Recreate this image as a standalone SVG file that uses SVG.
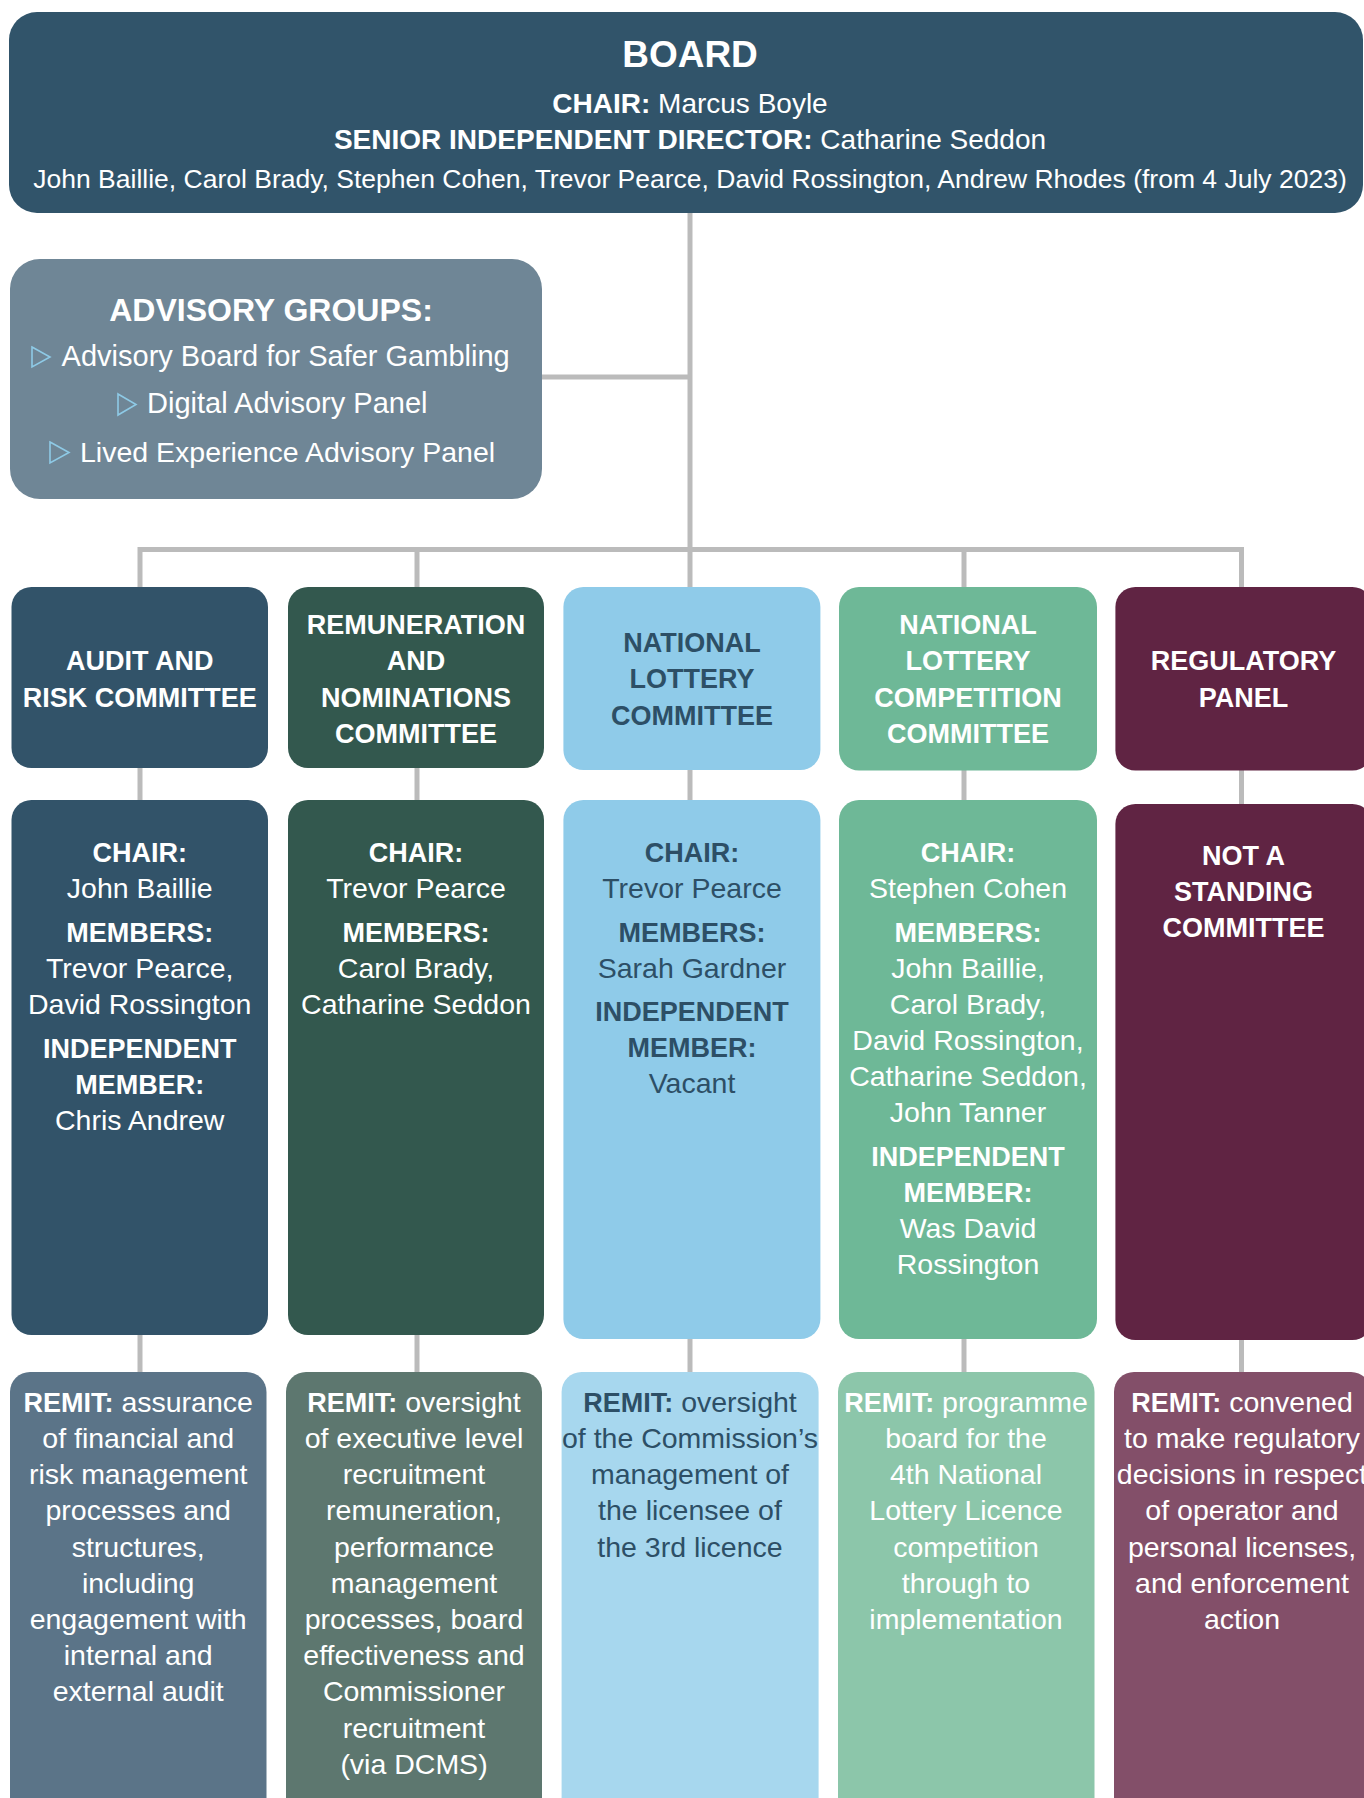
<svg xmlns="http://www.w3.org/2000/svg" width="1364" height="1798" viewBox="0 0 1364 1798">
<style>
text { font-family: "Liberation Sans", Arial, sans-serif; text-anchor: middle; font-size: 28.5px; }
.w { fill: #ffffff; }
.d { fill: #2d4f66; }
.b { font-weight: bold; }
.s27 { font-size: 27px; }
.st { text-anchor: start; }
.conn { stroke: #bbbbbb; stroke-width: 5; fill: none; }
.bul { stroke: #8ecae6; stroke-width: 1.6; fill: none; stroke-linejoin: miter; }
.c1 { fill: #325369; } .c1r { fill: #5b7488; }
.c2 { fill: #33584e; } .c2r { fill: #5d776f; }
.c3 { fill: #8fcbe9; } .c3r { fill: #a7d7ee; }
.c4 { fill: #6eb897; } .c4r { fill: #8cc6aa; }
.c5 { fill: #602443; } .c5r { fill: #834f69; }
</style>

<g id="connectors" class="conn">
  <path d="M690 205 V550"/>
  <path d="M535 377 H690"/>
  <path d="M140 549.5 H1241.5"/>
  <path d="M140 547 V595 M417 547 V595 M690 547 V595 M964 547 V595 M1241.5 547 V595"/>
  <path d="M140 760 V808 M417 760 V808 M690 760 V808 M964 760 V808 M1241.5 760 V812"/>
  <path d="M140 1325 V1380 M417 1325 V1380 M690 1325 V1380 M964 1325 V1380 M1241.5 1325 V1380"/>
</g>

<g id="board">
  <rect x="9" y="12" width="1354" height="201" rx="28" fill="#31546a"/>
  <text class="w b" x="690" y="66.7" style="font-size:37px">BOARD</text>
  <text class="w" x="690" y="112.7" style="font-size:28px"><tspan class="b">CHAIR:</tspan> Marcus Boyle</text>
  <text class="w" x="690" y="149.3" style="font-size:28px"><tspan class="b">SENIOR INDEPENDENT DIRECTOR:</tspan> Catharine Seddon</text>
  <text class="w" x="690" y="188.3" style="font-size:26.5px">John Baillie, Carol Brady, Stephen Cohen, Trevor Pearce, David Rossington, Andrew Rhodes (from 4 July 2023)</text>
</g>

<g id="advisory-groups">
  <rect x="10" y="259" width="532" height="240" rx="30" fill="#6f8696"/>
  <text class="w b" x="271" y="320.7" style="font-size:32px">ADVISORY GROUPS:</text>
  <polygon class="bul" points="32,347 50,357 32,367"/>
  <text class="w st" x="61.6" y="366" style="font-size:29px">Advisory Board for Safer Gambling</text>
  <polygon class="bul" points="118,394 136,404.5 118,415"/>
  <text class="w st" x="147" y="413" style="font-size:29px">Digital Advisory Panel</text>
  <polygon class="bul" points="50,442 69,452.5 50,463"/>
  <text class="w st" x="80" y="462" style="font-size:28.5px">Lived Experience Advisory Panel</text>
</g>

<!-- Row 1: committee titles -->
<g id="audit-risk-committee">
  <rect class="c1" x="11.5" y="587" width="256.5" height="181" rx="20"/>
  <text class="w b s27" x="139.7" y="670">AUDIT AND</text>
  <text class="w b s27" x="139.7" y="706.7">RISK COMMITTEE</text>
</g>
<g id="remuneration-committee">
  <rect class="c2" x="288" y="587" width="256" height="181" rx="20"/>
  <text class="w b s27" x="416" y="634">REMUNERATION</text>
  <text class="w b s27" x="416" y="670">AND</text>
  <text class="w b s27" x="416" y="706.7">NOMINATIONS</text>
  <text class="w b s27" x="416" y="742.7">COMMITTEE</text>
</g>
<g id="national-lottery-committee">
  <rect class="c3" x="563.4" y="587" width="257" height="183" rx="20"/>
  <text class="d b s27" x="692" y="652">NATIONAL</text>
  <text class="d b s27" x="692" y="688.3">LOTTERY</text>
  <text class="d b s27" x="692" y="725">COMMITTEE</text>
</g>
<g id="nl-competition-committee">
  <rect class="c4" x="839" y="587" width="258" height="183.5" rx="20"/>
  <text class="w b s27" x="968" y="634">NATIONAL</text>
  <text class="w b s27" x="968" y="670">LOTTERY</text>
  <text class="w b s27" x="968" y="706.7">COMPETITION</text>
  <text class="w b s27" x="968" y="742.7">COMMITTEE</text>
</g>
<g id="regulatory-panel">
  <rect class="c5" x="1115.4" y="587" width="257" height="183.5" rx="20"/>
  <text class="w b s27" x="1243.5" y="670">REGULATORY</text>
  <text class="w b s27" x="1243.5" y="706.7">PANEL</text>
</g>

<!-- Row 2: membership -->
<g id="audit-risk-members">
  <rect class="c1" x="11.5" y="800" width="256.5" height="535" rx="20"/>
  <text class="w b s27" x="139.7" y="862">CHAIR:</text>
  <text class="w" x="139.7" y="898">John Baillie</text>
  <text class="w b s27" x="139.7" y="942">MEMBERS:</text>
  <text class="w" x="139.7" y="978">Trevor Pearce,</text>
  <text class="w" x="139.7" y="1014">David Rossington</text>
  <text class="w b s27" x="139.7" y="1058">INDEPENDENT</text>
  <text class="w b s27" x="139.7" y="1094">MEMBER:</text>
  <text class="w" x="139.7" y="1130">Chris Andrew</text>
</g>
<g id="remuneration-members">
  <rect class="c2" x="288" y="800" width="256" height="535" rx="20"/>
  <text class="w b s27" x="416" y="862">CHAIR:</text>
  <text class="w" x="416" y="898">Trevor Pearce</text>
  <text class="w b s27" x="416" y="942">MEMBERS:</text>
  <text class="w" x="416" y="978">Carol Brady,</text>
  <text class="w" x="416" y="1014">Catharine Seddon</text>
</g>
<g id="national-lottery-members">
  <rect class="c3" x="563.4" y="800" width="257" height="539" rx="20"/>
  <text class="d b s27" x="692" y="862">CHAIR:</text>
  <text class="d" x="692" y="898">Trevor Pearce</text>
  <text class="d b s27" x="692" y="942">MEMBERS:</text>
  <text class="d" x="692" y="978">Sarah Gardner</text>
  <text class="d b s27" x="692" y="1021">INDEPENDENT</text>
  <text class="d b s27" x="692" y="1057">MEMBER:</text>
  <text class="d" x="692" y="1093">Vacant</text>
</g>
<g id="nl-competition-members">
  <rect class="c4" x="839" y="800" width="258" height="539" rx="20"/>
  <text class="w b s27" x="968" y="862">CHAIR:</text>
  <text class="w" x="968" y="898">Stephen Cohen</text>
  <text class="w b s27" x="968" y="942">MEMBERS:</text>
  <text class="w" x="968" y="978">John Baillie,</text>
  <text class="w" x="968" y="1014">Carol Brady,</text>
  <text class="w" x="968" y="1050">David Rossington,</text>
  <text class="w" x="968" y="1086">Catharine Seddon,</text>
  <text class="w" x="968" y="1122">John Tanner</text>
  <text class="w b s27" x="968" y="1166">INDEPENDENT</text>
  <text class="w b s27" x="968" y="1202">MEMBER:</text>
  <text class="w" x="968" y="1238">Was David</text>
  <text class="w" x="968" y="1274">Rossington</text>
</g>
<g id="regulatory-panel-members">
  <rect class="c5" x="1115.4" y="804" width="257" height="536" rx="20"/>
  <text class="w b s27" x="1243.5" y="865">NOT A</text>
  <text class="w b s27" x="1243.5" y="901">STANDING</text>
  <text class="w b s27" x="1243.5" y="937">COMMITTEE</text>
</g>

<!-- Row 3: remit -->
<g id="audit-risk-remit">
  <rect class="c1r" x="10" y="1372" width="256.5" height="460" rx="20"/>
  <text class="w" x="138.2" y="1411.7"><tspan class="b s27">REMIT:</tspan> assurance</text>
  <text class="w" x="138.2" y="1447.9">of financial and</text>
  <text class="w" x="138.2" y="1484.1">risk management</text>
  <text class="w" x="138.2" y="1520.3">processes and</text>
  <text class="w" x="138.2" y="1556.5">structures,</text>
  <text class="w" x="138.2" y="1592.7">including</text>
  <text class="w" x="138.2" y="1628.9">engagement with</text>
  <text class="w" x="138.2" y="1665.1">internal and</text>
  <text class="w" x="138.2" y="1701.3">external audit</text>
</g>
<g id="remuneration-remit">
  <rect class="c2r" x="286" y="1372" width="256" height="460" rx="20"/>
  <text class="w" x="414" y="1411.7"><tspan class="b s27">REMIT:</tspan> oversight</text>
  <text class="w" x="414" y="1447.9">of executive level</text>
  <text class="w" x="414" y="1484.1">recruitment</text>
  <text class="w" x="414" y="1520.3">remuneration,</text>
  <text class="w" x="414" y="1556.5">performance</text>
  <text class="w" x="414" y="1592.7">management</text>
  <text class="w" x="414" y="1628.9">processes, board</text>
  <text class="w" x="414" y="1665.1">effectiveness and</text>
  <text class="w" x="414" y="1701.3">Commissioner</text>
  <text class="w" x="414" y="1737.5">recruitment</text>
  <text class="w" x="414" y="1773.7">(via DCMS)</text>
</g>
<g id="national-lottery-remit">
  <rect class="c3r" x="561.6" y="1372" width="257" height="460" rx="20"/>
  <text class="d" x="690" y="1411.7"><tspan class="b s27">REMIT:</tspan> oversight</text>
  <text class="d" x="690" y="1447.9">of the Commission’s</text>
  <text class="d" x="690" y="1484.1">management of</text>
  <text class="d" x="690" y="1520.3">the licensee of</text>
  <text class="d" x="690" y="1556.5">the 3rd licence</text>
</g>
<g id="nl-competition-remit">
  <rect class="c4r" x="838" y="1372" width="256.5" height="460" rx="20"/>
  <text class="w" x="966" y="1411.7"><tspan class="b s27">REMIT:</tspan> programme</text>
  <text class="w" x="966" y="1447.9">board for the</text>
  <text class="w" x="966" y="1484.1">4th National</text>
  <text class="w" x="966" y="1520.3">Lottery Licence</text>
  <text class="w" x="966" y="1556.5">competition</text>
  <text class="w" x="966" y="1592.7">through to</text>
  <text class="w" x="966" y="1628.9">implementation</text>
</g>
<g id="regulatory-panel-remit">
  <rect class="c5r" x="1114" y="1372" width="257" height="460" rx="20"/>
  <text class="w" x="1242" y="1411.7"><tspan class="b s27">REMIT:</tspan> convened</text>
  <text class="w" x="1242" y="1447.9">to make regulatory</text>
  <text class="w" x="1242" y="1484.1">decisions in respect</text>
  <text class="w" x="1242" y="1520.3">of operator and</text>
  <text class="w" x="1242" y="1556.5">personal licenses,</text>
  <text class="w" x="1242" y="1592.7">and enforcement</text>
  <text class="w" x="1242" y="1628.9">action</text>
</g>
</svg>
